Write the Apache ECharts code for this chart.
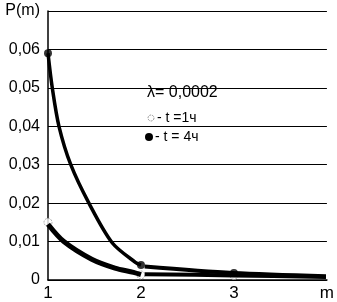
<!DOCTYPE html>
<html lang="ru">
<head>
  <meta charset="UTF-8">
  <title>P(m)</title>
  <style>
    html, body { margin: 0; padding: 0; background: #fff; }
    #main { width: 337px; height: 302px; }
  </style>
</head>
<body>
  <div id="main"></div>
  <script src="https://cdn.jsdelivr.net/npm/echarts@6/dist/echarts.min.js"></script>
  <script>
    // кривая t = 4 ч, участок 1..2
    var t4X = [1, 1.046, 1.118, 1.245, 1.44, 1.69, 1.94, 2];
    var t4Y = [0.059, 0.05, 0.04, 0.03, 0.02, 0.0097, 0.0046, 0.0039];
    // хвост t = 4 ч
    var t4TailX = [2.04, 2.99, 3.99];
    var t4TailY = [0.0035, 0.0018, 0.001];
    // кривая t = 1 ч, участок 1..2
    var t1X = [1, 1.17, 1.47, 1.72, 1.92, 2];
    var t1Y = [0.0145, 0.01, 0.0054, 0.0031, 0.002, 0.0014];
    // хвост t = 1 ч
    var t1TailX = [2.04, 2.99, 3.99];
    var t1TailY = [0.0015, 0.0012, 0.0008];
    // точки-маркеры
    var markX = [1, 2, 3];
    var t4Marks = [0.059, 0.0039, 0.0018];
    var t1Marks = [0.015, 0.0013, 0.0012];
    var xTicks = { 1: '1', 2: '2', 3: '3', 4: 'm' };

    function pairs(xs, ys) {
      var out = [];
      for (var i = 0; i < xs.length; i++) out.push([xs[i], ys[i]]);
      return out;
    }

    var myChart = echarts.init(document.getElementById('main'));
    var font = 'Liberation Sans, Arial, sans-serif';

    function curve(data, w) {
      return {
        type: 'line', data: data, smooth: 0.3, symbol: 'none',
        lineStyle: { color: '#000', width: w }
      };
    }

    var option = {
      animation: false,
      grid: { left: 48, right: 7, top: 11, bottom: 21 },
      xAxis: {
        type: 'value', min: 1, max: 4, interval: 1,
        axisLine: { lineStyle: { color: '#000', width: 1.5 } },
        axisTick: { show: false },
        splitLine: { show: false },
        axisLabel: {
          color: '#000', fontSize: 17, fontFamily: font, margin: 5,
          formatter: function (v) { return xTicks[v] || ''; }
        }
      },
      yAxis: {
        type: 'value', min: 0, max: 0.07, interval: 0.01,
        axisLine: { show: true, lineStyle: { color: '#000', width: 1.5 } },
        axisTick: { show: false },
        splitLine: { lineStyle: { color: '#000', width: 1 } },
        axisLabel: {
          color: '#000', fontSize: 16, fontFamily: font, margin: 8,
          formatter: function (v) {
            if (Math.abs(v - 0.07) < 1e-6) return 'P(m)';
            if (v === 0) return '0';
            return v.toFixed(2).replace('.', ',');
          }
        }
      },
      graphic: [
        { type: 'text', x: 147, y: 93, style: { text: 'λ= 0,0002', font: '16px ' + font, fill: '#000', verticalAlign: 'middle' } },
        { type: 'circle', shape: { cx: 151, cy: 118, r: 3 }, style: { fill: '#fff', stroke: '#999', lineWidth: 1, lineDash: [2, 1] } },
        { type: 'text', x: 157, y: 118, style: { text: '- t =1ч', font: '14px ' + font, fill: '#000', verticalAlign: 'middle' } },
        { type: 'circle', shape: { cx: 149, cy: 137, r: 4 }, style: { fill: '#000' } },
        { type: 'text', x: 155, y: 137, style: { text: '- t = 4ч', font: '14px ' + font, fill: '#000', verticalAlign: 'middle' } }
      ],
      series: [
        curve(pairs(t4X, t4Y), 3.5),
        curve(pairs(t4TailX, t4TailY), 4),
        curve(pairs(t1X, t1Y), 5),
        curve(pairs(t1TailX, t1TailY), 4),
        {
          type: 'scatter', data: pairs(markX, t4Marks), symbol: 'circle', symbolSize: 8,
          itemStyle: { color: '#000' }
        },
        {
          type: 'scatter', data: pairs(markX, t1Marks), symbol: 'circle', symbolSize: 8,
          itemStyle: { color: '#fff', borderColor: '#999', borderWidth: 1, borderType: [2, 1] }
        }
      ]
    };
    myChart.setOption(option);
  </script>
</body>
</html>
